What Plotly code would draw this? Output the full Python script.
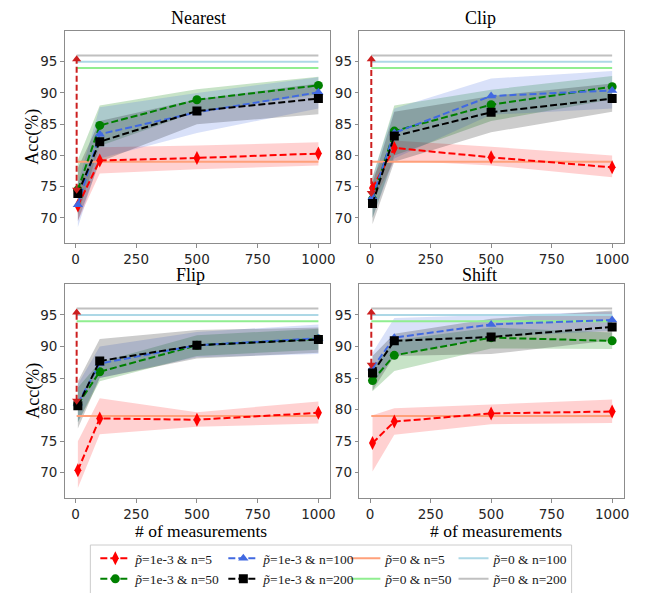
import plotly.graph_objects as go

# ---------------- data ----------------
measurements = [10, 100, 500, 1000]
panels = ["Nearest", "Clip", "Flip", "Shift"]

# p=1e-3 & n=5 (red)
red_mean = [[72.0, 79.2, 79.6, 80.3], [74.8, 81.2, 79.7, 78.1], [70.4, 78.6, 78.4, 79.5], [74.7, 78.1, 79.4, 79.7]]
red_lo = [[69.5, 77.1, 77.8, 78.4], [72.5, 79.2, 78.4, 76.5], [67.6, 76.1, 77.3, 77.8], [70.2, 76.0, 77.7, 77.9]]
red_hi = [[75.0, 81.3, 81.6, 82.1], [76.5, 82.4, 81.4, 80.0], [75.0, 81.8, 79.6, 81.3], [79.1, 80.2, 80.8, 81.6]]
# p=1e-3 & n=50 (green)
green_mean = [[74.5, 84.8, 88.9, 91.2], [73.0, 83.9, 88.1, 91.0], [80.8, 86.0, 90.2, 91.2], [84.6, 88.6, 91.4, 90.9]]
green_lo = [[70.5, 81.5, 87.0, 89.8], [70.0, 80.0, 85.5, 89.0], [78.0, 84.5, 88.5, 89.5], [82.9, 86.1, 89.7, 89.6]]
green_hi = [[79.3, 88.0, 90.6, 92.6], [76.5, 88.0, 90.5, 92.7], [83.5, 87.5, 91.8, 92.8], [86.5, 91.0, 93.0, 92.2]]
# p=1e-3 & n=100 (blue)
blue_mean = [[72.1, 83.4, 86.9, 90.1], [73.3, 83.6, 89.5, 90.4], [81.0, 87.3, 90.2, 91.3], [86.6, 91.4, 93.5, 94.2]]
blue_lo = [[68.5, 79.5, 83.6, 87.5], [70.0, 79.5, 86.5, 87.5], [78.0, 85.0, 88.3, 88.8], [84.0, 88.5, 91.5, 92.5]]
blue_hi = [[75.5, 87.7, 90.0, 92.5], [76.5, 87.5, 92.3, 93.5], [84.0, 90.0, 92.3, 93.5], [89.0, 94.5, 95.0, 95.5]]
# p=1e-3 & n=200 (black)
black_mean = [[73.9, 82.2, 87.1, 89.1], [72.3, 83.1, 86.9, 89.1], [80.6, 87.7, 90.2, 91.1], [85.8, 90.9, 91.5, 93.1]]
black_lo = [[69.5, 79.0, 85.0, 86.6], [69.0, 79.0, 83.7, 87.0], [77.0, 85.0, 88.1, 89.0], [83.0, 88.5, 88.8, 91.0]]
black_hi = [[78.0, 85.5, 89.0, 91.5], [75.5, 87.0, 89.5, 91.5], [84.5, 91.2, 92.6, 93.0], [88.5, 92.0, 94.4, 95.7]]

# p=0 reference levels (horizontal lines)
ref_x = [5, 1000]
ref_n5 = 79.0
ref_n50 = 94.0
ref_n100 = 95.0
ref_n200 = 96.0

# gap arrow (x position, bottom, top) per panel
arrow_x = [5, 5]
arrow_bottom = [74.5, 74.0, 81.4, 87.1]
arrow_top = [95.4, 95.4, 95.4, 95.4]

x_ticks = [0, 250, 500, 750, 1000]
y_ticks = [70, 75, 80, 85, 90, 95]

P = "<i>p\u0303</i>"
series = [
    ("red", red_mean, red_lo, red_hi, "#ff0000", "rgba(255,0,0,0.18)", "diamond-tall", 10, P + "=1e-3 & n=5", "legend"),
    ("green", green_mean, green_lo, green_hi, "#008000", "rgba(0,128,0,0.22)", "circle", 9, P + "=1e-3 & n=50", "legend"),
    ("blue", blue_mean, blue_lo, blue_hi, "#4169e1", "rgba(65,105,225,0.2)", "triangle-up", 9, P + "=1e-3 & n=100", "legend2"),
    ("black", black_mean, black_lo, black_hi, "#000000", "rgba(0,0,0,0.2)", "square", 9, P + "=1e-3 & n=200", "legend2"),
]
refs = [
    (ref_n5, "#ffa07a", P + "=0 & n=5", "legend3"),
    (ref_n50, "#90ee90", P + "=0 & n=50", "legend3"),
    (ref_n100, "#add8e6", P + "=0 & n=100", "legend4"),
    (ref_n200, "#c0c0c0", P + "=0 & n=200", "legend4"),
]

W, H = 646, 593
# pixel boxes of each panel: (left, right, top, bottom)
boxes = [(57, 325, 23, 235), (354, 621, 23, 235), (57, 325, 276, 490), (354, 621, 276, 490)]

fig = go.Figure()
for i, name in enumerate(panels):
    xa = "x" if i == 0 else f"x{i+1}"
    ya = "y" if i == 0 else f"y{i+1}"
    # bands
    for key, mean, lo, hi, col, fcol, sym, ms, lab, lg in series:
        fig.add_trace(go.Scatter(
            x=measurements + measurements[::-1], y=hi[i] + lo[i][::-1],
            fill="toself", fillcolor=fcol, line=dict(width=0), mode="lines",
            hoverinfo="skip", showlegend=False, xaxis=xa, yaxis=ya))
    # reference lines
    for val, col, lab, lg in refs:
        fig.add_trace(go.Scatter(
            x=ref_x, y=[val, val], mode="lines", line=dict(color=col, width=2),
            name=lab, legend=lg, showlegend=(i == 0), xaxis=xa, yaxis=ya))
    # series lines
    for key, mean, lo, hi, col, fcol, sym, ms, lab, lg in series:
        fig.add_trace(go.Scatter(
            x=measurements, y=mean[i], mode="lines+markers",
            line=dict(color=col, width=2, dash="7px,3px"),
            marker=dict(symbol=sym, size=ms, color=col),
            name=lab, legend=lg, showlegend=(i == 0), xaxis=xa, yaxis=ya))
    # arrow
    fig.add_trace(go.Scatter(
        x=arrow_x, y=[arrow_bottom[i], arrow_top[i]], mode="lines+markers",
        line=dict(color="#cc1f1f", width=2, dash="6px,3px"),
        marker=dict(symbol=["triangle-down", "triangle-up"], size=8, color="#cc1f1f"),
        showlegend=False, xaxis=xa, yaxis=ya))

axis_common = dict(showline=True, mirror=True, linecolor="#8c8c8c", linewidth=1,
                   showgrid=False, zeroline=False, ticks="outside", ticklen=3.5,
                   tickcolor="#8c8c8c", tickfont=dict(family="DejaVu Sans", size=13.5, color="#262626"))
layout = dict(width=W, height=H, margin=dict(l=0, r=0, t=0, b=0),
              paper_bgcolor="white", plot_bgcolor="white", showlegend=True)
for i, (l, r, t, b) in enumerate(boxes):
    sx = "" if i == 0 else str(i + 1)
    layout["xaxis" + sx] = dict(axis_common, domain=[l / W, r / W], range=[-44.75, 1049.75],
                                tickvals=x_ticks, anchor="y" + sx)
    layout["yaxis" + sx] = dict(axis_common, domain=[1 - b / H, 1 - t / H], range=[66.0, 99.9],
                                tickvals=y_ticks, anchor="x" + sx)

serif = "Liberation Serif, Times New Roman, Times, serif"
leg_common = dict(orientation="v", bgcolor="rgba(0,0,0,0)", borderwidth=0,
                  font=dict(family=serif, size=13.5, color="#1a1a1a"),
                  xanchor="left", yanchor="top", tracegroupgap=0, itemwidth=30)
leg_x = [88, 217, 340, 449]
for k, lg in enumerate(["legend", "legend2", "legend3", "legend4"]):
    layout[lg] = dict(leg_common, x=leg_x[k] / W, y=1 - 535 / H)
fig.update_layout(**layout)

# legend frame
fig.add_shape(type="rect", xref="paper", yref="paper", x0=83 / W, x1=568 / W,
              y0=1 - 590 / H, y1=1 - 537 / H, line=dict(color="#cccccc", width=1))
fig.add_shape(type="line", xref="paper", yref="paper", x0=85 / W, x1=569 / W,
              y0=1 - 591 / H, y1=1 - 591 / H, line=dict(color="#aaaaaa", width=1.5))

# titles and axis labels
titles = [("Nearest", 192, 10), ("Clip", 476, 10), ("Flip", 184, 267), ("Shift", 475, 267)]
for txt, px, py in titles:
    fig.add_annotation(text=txt, x=px / W, y=1 - py / H, xref="paper", yref="paper",
                       showarrow=False, font=dict(family=serif, size=18, color="black"),
                       xanchor="center", yanchor="middle")
for py in [129, 383]:
    fig.add_annotation(text="Acc(%)", x=25 / W, y=1 - py / H, xref="paper", yref="paper",
                       showarrow=False, textangle=-90, font=dict(family=serif, size=18, color="black"),
                       xanchor="center", yanchor="middle")
for px in [195, 492]:
    fig.add_annotation(text="# of measurements", x=px / W, y=1 - 523 / H, xref="paper", yref="paper",
                       showarrow=False, font=dict(family=serif, size=17.5, color="black"),
                       xanchor="center", yanchor="middle")

fig.write_html("out.html")
